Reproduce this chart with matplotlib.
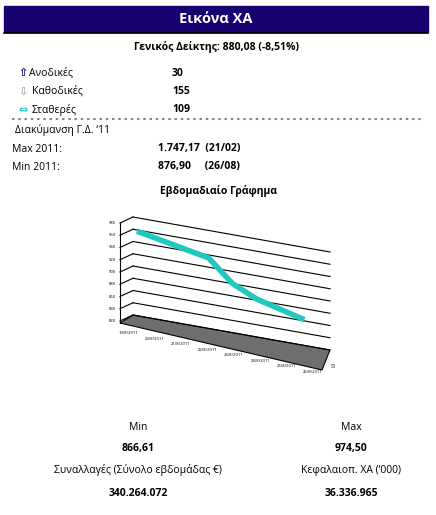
import matplotlib
matplotlib.use('Agg')
import matplotlib.pyplot as plt
from matplotlib.patches import Rectangle, Polygon

plt.rcParams['font.family'] = ['Open Sans', 'DejaVu Sans']

# data
dates = ['19/8/2011', '20/8/2011', '21/8/2011', '22/8/2011',
         '23/8/2011', '24/8/2011', '25/8/2011', '26/8/2011']
line_idx = [0, 3, 4, 5, 6, 7]
line_vals = [958, 935, 900, 882, 872, 862]
y_ticks = [820, 840, 860, 880, 900, 920, 940, 960, 980]
breadth_labels = ['Ανοδικές', 'Καθοδικές', 'Σταθερές']
breadth_vals = ['30', '155', '109']

fig = plt.figure(figsize=(4.36, 5.15), dpi=100)
ax = fig.add_axes([0, 0, 1, 1])
ax.set_xlim(0, 436)
ax.set_ylim(515, 0)
ax.axis('off')

navy = '#170070'
ax.add_patch(Rectangle((4, 6), 424, 26, color=navy))
ax.plot([4, 428], [33, 33], color='black', lw=1.2)
ax.text(216, 19, 'Εικόνα ΧΑ', color='white', fontsize=10.5, fontweight='bold', ha='center', va='center')
ax.text(216, 47, 'Γενικός Δείκτης: 880,08 (-8,51%)', fontsize=7.5, fontweight='bold', ha='center', va='center')

arrows = ['⇧', '⇩', '⇔']
acols = [navy, '#aaaaaa', '#22c8c8']
for i, (lab, val) in enumerate(zip(breadth_labels, breadth_vals)):
    y = 73 + i * 18.5
    ax.text(18, y, arrows[i], color=acols[i], fontsize=8, fontweight='bold', va='center', family='DejaVu Sans')
    ax.text(29 + (3 if i else 0), y, lab, fontsize=7.5, va='center')
    ax.text(172, y, val, fontsize=7.5, fontweight='bold', va='center')
ax.plot([12, 424], [119, 119], color='#888888', lw=1.5, ls=(0, (1.2, 1.8)))
ax.text(15, 130, 'Διακύμανση Γ.Δ. ‘11', fontsize=7.5, va='center')
ax.text(12, 149, 'Max 2011:', fontsize=7.5, va='center')
ax.text(158, 149, '1.747,17  (21/02)', fontsize=7.5, fontweight='bold', va='center')
ax.text(12, 167, 'Min 2011:', fontsize=7.5, va='center')
ax.text(158, 167, '876,90     (26/08)', fontsize=7.5, fontweight='bold', va='center')
ax.text(218, 191, 'Εβδομαδιαίο Γράφημα', fontsize=7.5, fontweight='bold', ha='center', va='center')

# pseudo-3D chart projection
bx0, bx1, drop = 133, 330, 35
def proj(f, v):
    y0 = 217 + (980 - v) * 0.6125
    return bx0 + f * (bx1 - bx0), y0 + f * drop

for v in y_ticks:
    x1, y1 = proj(0, v)
    x2, y2 = proj(1, v)
    ax.plot([x1, x2], [y1, y2], color='black', lw=0.8)
    ax.plot([120, x1], [y1 + 6, y1], color='black', lw=0.8)
    ax.text(116, y1 + 6, str(v), fontsize=3, ha='right', va='center')
ax.plot([120, 120], [223, 323], color='black', lw=0.8)
fl = [(120, 323), proj(0, 820), proj(1, 820), (322, 370)]
ax.add_patch(Polygon(fl, closed=True, facecolor='#6e6e6e', edgecolor='black', lw=0.8))
ax.text(331, 366, 'S1', fontsize=3.5, va='center')
for i, d in enumerate(dates):
    f = i / 7
    x = 128 + f * 185
    y = 333 + f * 39
    ax.text(x, y, d, fontsize=3, ha='center', va='center')

pts = [proj(0.02 + i * 0.85 / 7, v) for i, v in zip(line_idx, line_vals)]
ax.plot([p[0] for p in pts], [p[1] for p in pts], color='#20c8c0', lw=4, solid_capstyle='butt')

ax.text(138, 428, 'Min', fontsize=7.5, ha='center', va='center')
ax.text(351, 428, 'Max', fontsize=7.5, ha='center', va='center')
ax.text(138, 449, '866,61', fontsize=7.5, fontweight='bold', ha='center', va='center')
ax.text(351, 449, '974,50', fontsize=7.5, fontweight='bold', ha='center', va='center')
ax.text(138, 470, 'Συναλλαγές (Σύνολο εβδομάδας €)', fontsize=7.5, ha='center', va='center')
ax.text(351, 470, 'Κεφαλαιοπ. ΧΑ (‘000)', fontsize=7.5, ha='center', va='center')
ax.text(138, 493, '340.264.072', fontsize=7.5, fontweight='bold', ha='center', va='center')
ax.text(351, 493, '36.336.965', fontsize=7.5, fontweight='bold', ha='center', va='center')

fig.savefig('out.png', dpi=100)
